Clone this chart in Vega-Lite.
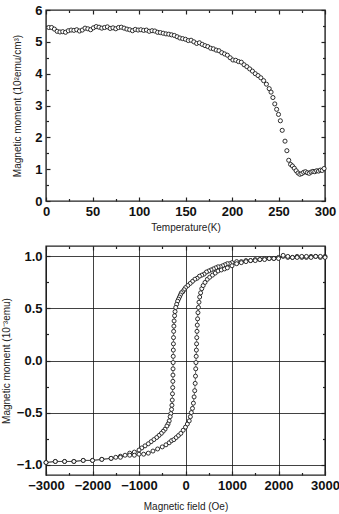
{
  "$schema": "https://vega.github.io/schema/vega-lite/v6.json",
  "padding": {"left": 0, "top": 3, "right": 0, "bottom": 0},
  "spacing": 11,
  "config": {
    "view": {"stroke": "#222", "strokeWidth": 1.4},
    "axis": {"labelFont": "Liberation Sans", "labelFontWeight": "bold", "labelFontSize": 13, "labelColor": "#111", "titleFont": "Liberation Sans", "titleFontSize": 10, "titleFontWeight": "normal", "titleColor": "#222", "tickColor": "#222", "tickWidth": 1.2, "domain": false, "grid": false, "labelFlush": false, "labelOverlap": false}
  },
  "datasets": {
    "mt": [
      {"T":3,"M":5.45},{"T":6,"M":5.45},{"T":9,"M":5.40},{"T":12,"M":5.33},{"T":15,"M":5.31},{"T":18,"M":5.32},{"T":21,"M":5.30},{"T":24,"M":5.35},{"T":27,"M":5.37},{"T":30,"M":5.36},
      {"T":33,"M":5.38},{"T":36,"M":5.34},{"T":39,"M":5.37},{"T":42,"M":5.43},{"T":45,"M":5.41},{"T":48,"M":5.38},{"T":51,"M":5.44},{"T":54,"M":5.48},{"T":57,"M":5.46},{"T":60,"M":5.43},
      {"T":63,"M":5.45},{"T":66,"M":5.47},{"T":69,"M":5.42},{"T":72,"M":5.44},{"T":75,"M":5.41},{"T":78,"M":5.45},{"T":81,"M":5.46},{"T":84,"M":5.43},{"T":87,"M":5.40},{"T":90,"M":5.38},
      {"T":93,"M":5.35},{"T":96,"M":5.39},{"T":99,"M":5.37},{"T":102,"M":5.38},{"T":105,"M":5.36},{"T":108,"M":5.37},{"T":111,"M":5.33},{"T":114,"M":5.35},{"T":117,"M":5.34},{"T":120,"M":5.30},
      {"T":123,"M":5.29},{"T":126,"M":5.27},{"T":129,"M":5.25},{"T":132,"M":5.24},{"T":135,"M":5.22},{"T":138,"M":5.20},{"T":141,"M":5.16},{"T":144,"M":5.12},{"T":147,"M":5.10},{"T":150,"M":5.08},
      {"T":153,"M":5.04},{"T":156,"M":5.05},{"T":159,"M":5.00},{"T":162,"M":4.95},{"T":165,"M":4.97},{"T":168,"M":4.92},{"T":171,"M":4.88},{"T":174,"M":4.85},{"T":177,"M":4.80},{"T":180,"M":4.78},
      {"T":183,"M":4.74},{"T":186,"M":4.72},{"T":189,"M":4.66},{"T":192,"M":4.62},{"T":195,"M":4.58},{"T":198,"M":4.50},{"T":201,"M":4.43},{"T":204,"M":4.42},{"T":207,"M":4.38},{"T":210,"M":4.36},
      {"T":213,"M":4.28},{"T":216,"M":4.22},{"T":219,"M":4.15},{"T":222,"M":4.08},{"T":225,"M":4.00},{"T":228,"M":3.94},{"T":231,"M":3.87},{"T":234,"M":3.78},{"T":237,"M":3.67},{"T":240,"M":3.53},
      {"T":242,"M":3.42},{"T":244,"M":3.25},{"T":246,"M":3.05},{"T":248,"M":2.88},{"T":250,"M":2.72},{"T":252,"M":2.52},{"T":254,"M":2.22},{"T":257,"M":1.88},{"T":259,"M":1.58},{"T":261,"M":1.28},
      {"T":263,"M":1.15},{"T":265,"M":1.10},{"T":267,"M":1.03},{"T":269,"M":0.95},{"T":271,"M":0.88},{"T":273,"M":0.84},{"T":275,"M":0.86},{"T":277,"M":0.90},{"T":279,"M":0.92},{"T":281,"M":0.89},
      {"T":283,"M":0.87},{"T":285,"M":0.91},{"T":287,"M":0.93},{"T":289,"M":0.92},{"T":291,"M":0.95},{"T":293,"M":0.94},{"T":295,"M":0.97},{"T":297,"M":0.96},{"T":299,"M":1.02}
    ],
    "mh": [
      {"b":"down","i":1,"H":3000,"M":1.00},{"b":"down","i":2,"H":2900,"M":0.99},{"b":"down","i":3,"H":2800,"M":1.00},{"b":"down","i":4,"H":2700,"M":1.00},{"b":"down","i":5,"H":2600,"M":0.99},
      {"b":"down","i":6,"H":2500,"M":0.99},{"b":"down","i":7,"H":2400,"M":1.00},{"b":"down","i":8,"H":2300,"M":0.99},{"b":"down","i":9,"H":2200,"M":0.99},{"b":"down","i":10,"H":2100,"M":1.00},
      {"b":"down","i":11,"H":2000,"M":0.99},{"b":"down","i":12,"H":1900,"M":0.98},{"b":"down","i":13,"H":1800,"M":0.98},{"b":"down","i":14,"H":1700,"M":0.98},{"b":"down","i":15,"H":1600,"M":0.97},
      {"b":"down","i":16,"H":1500,"M":0.97},{"b":"down","i":17,"H":1400,"M":0.96},{"b":"down","i":18,"H":1300,"M":0.96},{"b":"down","i":19,"H":1200,"M":0.95},{"b":"down","i":20,"H":1100,"M":0.95},
      {"b":"down","i":21,"H":1000,"M":0.94},{"b":"down","i":22,"H":950,"M":0.93},{"b":"down","i":23,"H":900,"M":0.93},{"b":"down","i":24,"H":850,"M":0.92},{"b":"down","i":25,"H":800,"M":0.91},
      {"b":"down","i":26,"H":750,"M":0.90},{"b":"down","i":27,"H":700,"M":0.90},{"b":"down","i":28,"H":650,"M":0.89},{"b":"down","i":29,"H":600,"M":0.88},{"b":"down","i":30,"H":550,"M":0.87},
      {"b":"down","i":31,"H":500,"M":0.86},{"b":"down","i":32,"H":450,"M":0.85},{"b":"down","i":33,"H":400,"M":0.83},{"b":"down","i":34,"H":350,"M":0.82},{"b":"down","i":35,"H":300,"M":0.81},
      {"b":"down","i":36,"H":250,"M":0.79},{"b":"down","i":37,"H":200,"M":0.78},{"b":"down","i":38,"H":150,"M":0.76},{"b":"down","i":39,"H":100,"M":0.74},{"b":"down","i":40,"H":50,"M":0.72},
      {"b":"down","i":41,"H":0,"M":0.70},{"b":"down","i":42,"H":-30,"M":0.68},{"b":"down","i":43,"H":-60,"M":0.66},{"b":"down","i":44,"H":-90,"M":0.65},{"b":"down","i":45,"H":-110,"M":0.63},
      {"b":"down","i":46,"H":-130,"M":0.61},{"b":"down","i":47,"H":-150,"M":0.59},{"b":"down","i":48,"H":-170,"M":0.57},{"b":"down","i":49,"H":-190,"M":0.54},{"b":"down","i":50,"H":-210,"M":0.51},
      {"b":"down","i":51,"H":-225,"M":0.47},{"b":"down","i":52,"H":-235,"M":0.43},{"b":"down","i":53,"H":-245,"M":0.38},{"b":"down","i":54,"H":-250,"M":0.33},{"b":"down","i":55,"H":-255,"M":0.28},
      {"b":"down","i":56,"H":-258,"M":0.22},{"b":"down","i":57,"H":-260,"M":0.16},{"b":"down","i":58,"H":-262,"M":0.10},{"b":"down","i":59,"H":-264,"M":0.04},{"b":"down","i":60,"H":-266,"M":-0.02},
      {"b":"down","i":61,"H":-268,"M":-0.08},{"b":"down","i":62,"H":-270,"M":-0.14},{"b":"down","i":63,"H":-272,"M":-0.20},{"b":"down","i":64,"H":-275,"M":-0.26},{"b":"down","i":65,"H":-280,"M":-0.32},
      {"b":"down","i":66,"H":-285,"M":-0.38},{"b":"down","i":67,"H":-292,"M":-0.43},{"b":"down","i":68,"H":-300,"M":-0.47},{"b":"down","i":69,"H":-315,"M":-0.51},{"b":"down","i":70,"H":-330,"M":-0.54},
      {"b":"down","i":71,"H":-350,"M":-0.58},{"b":"down","i":72,"H":-375,"M":-0.61},{"b":"down","i":73,"H":-400,"M":-0.63},{"b":"down","i":74,"H":-440,"M":-0.66},{"b":"down","i":75,"H":-480,"M":-0.68},
      {"b":"down","i":76,"H":-520,"M":-0.70},{"b":"down","i":77,"H":-570,"M":-0.72},{"b":"down","i":78,"H":-620,"M":-0.74},{"b":"down","i":79,"H":-680,"M":-0.76},{"b":"down","i":80,"H":-740,"M":-0.78},
      {"b":"down","i":81,"H":-800,"M":-0.80},{"b":"down","i":82,"H":-870,"M":-0.82},{"b":"down","i":83,"H":-940,"M":-0.84},{"b":"down","i":84,"H":-1000,"M":-0.86},{"b":"down","i":85,"H":-1100,"M":-0.88},
      {"b":"down","i":86,"H":-1200,"M":-0.89},{"b":"down","i":87,"H":-1300,"M":-0.91},{"b":"down","i":88,"H":-1400,"M":-0.92},{"b":"down","i":89,"H":-1500,"M":-0.93},{"b":"down","i":90,"H":-1600,"M":-0.94},
      {"b":"down","i":91,"H":-1800,"M":-0.95},{"b":"down","i":92,"H":-2000,"M":-0.96},{"b":"down","i":93,"H":-2200,"M":-0.96},{"b":"down","i":94,"H":-2400,"M":-0.97},{"b":"down","i":95,"H":-2600,"M":-0.97},
      {"b":"down","i":96,"H":-2800,"M":-0.97},{"b":"down","i":97,"H":-3000,"M":-0.98},
      {"b":"up","i":1,"H":-3000,"M":-0.98},{"b":"up","i":2,"H":-2800,"M":-0.97},{"b":"up","i":3,"H":-2600,"M":-0.97},{"b":"up","i":4,"H":-2400,"M":-0.97},{"b":"up","i":5,"H":-2200,"M":-0.96},
      {"b":"up","i":6,"H":-2000,"M":-0.96},{"b":"up","i":7,"H":-1800,"M":-0.95},{"b":"up","i":8,"H":-1600,"M":-0.94},{"b":"up","i":9,"H":-1400,"M":-0.93},{"b":"up","i":10,"H":-1200,"M":-0.91},
      {"b":"up","i":11,"H":-1100,"M":-0.91},{"b":"up","i":12,"H":-1000,"M":-0.90},{"b":"up","i":13,"H":-900,"M":-0.90},{"b":"up","i":14,"H":-800,"M":-0.89},{"b":"up","i":15,"H":-700,"M":-0.87},
      {"b":"up","i":16,"H":-600,"M":-0.85},{"b":"up","i":17,"H":-500,"M":-0.83},{"b":"up","i":18,"H":-420,"M":-0.81},{"b":"up","i":19,"H":-350,"M":-0.79},{"b":"up","i":20,"H":-300,"M":-0.77},
      {"b":"up","i":21,"H":-250,"M":-0.76},{"b":"up","i":22,"H":-200,"M":-0.74},{"b":"up","i":23,"H":-150,"M":-0.72},{"b":"up","i":24,"H":-100,"M":-0.70},{"b":"up","i":25,"H":-50,"M":-0.67},
      {"b":"up","i":26,"H":0,"M":-0.64},{"b":"up","i":27,"H":40,"M":-0.61},{"b":"up","i":28,"H":80,"M":-0.58},{"b":"up","i":29,"H":105,"M":-0.54},{"b":"up","i":30,"H":125,"M":-0.50},
      {"b":"up","i":31,"H":150,"M":-0.46},{"b":"up","i":32,"H":170,"M":-0.41},{"b":"up","i":33,"H":185,"M":-0.35},{"b":"up","i":34,"H":198,"M":-0.29},{"b":"up","i":35,"H":208,"M":-0.22},
      {"b":"up","i":36,"H":215,"M":-0.15},{"b":"up","i":37,"H":220,"M":-0.08},{"b":"up","i":38,"H":225,"M":-0.02},{"b":"up","i":39,"H":230,"M":0.04},{"b":"up","i":40,"H":234,"M":0.10},
      {"b":"up","i":41,"H":238,"M":0.16},{"b":"up","i":42,"H":242,"M":0.22},{"b":"up","i":43,"H":247,"M":0.28},{"b":"up","i":44,"H":253,"M":0.34},{"b":"up","i":45,"H":260,"M":0.40},
      {"b":"up","i":46,"H":268,"M":0.46},{"b":"up","i":47,"H":278,"M":0.51},{"b":"up","i":48,"H":290,"M":0.56},{"b":"up","i":49,"H":305,"M":0.61},{"b":"up","i":50,"H":325,"M":0.65},
      {"b":"up","i":51,"H":350,"M":0.69},{"b":"up","i":52,"H":380,"M":0.72},{"b":"up","i":53,"H":420,"M":0.75},{"b":"up","i":54,"H":470,"M":0.78},{"b":"up","i":55,"H":520,"M":0.80},
      {"b":"up","i":56,"H":580,"M":0.82},{"b":"up","i":57,"H":640,"M":0.84},{"b":"up","i":58,"H":700,"M":0.86},{"b":"up","i":59,"H":770,"M":0.87},{"b":"up","i":60,"H":840,"M":0.88},
      {"b":"up","i":61,"H":900,"M":0.89},{"b":"up","i":62,"H":1000,"M":0.91},{"b":"up","i":63,"H":1100,"M":0.93},{"b":"up","i":64,"H":1200,"M":0.94},{"b":"up","i":65,"H":1300,"M":0.95},
      {"b":"up","i":66,"H":1400,"M":0.96},{"b":"up","i":67,"H":1500,"M":0.96},{"b":"up","i":68,"H":1600,"M":0.97},{"b":"up","i":69,"H":1700,"M":0.97},{"b":"up","i":70,"H":1800,"M":0.98},
      {"b":"up","i":71,"H":1900,"M":0.98},{"b":"up","i":72,"H":2000,"M":0.98},{"b":"up","i":73,"H":2100,"M":1.01},{"b":"up","i":74,"H":2200,"M":1.00},{"b":"up","i":75,"H":2300,"M":0.99},
      {"b":"up","i":76,"H":2400,"M":0.99},{"b":"up","i":77,"H":2500,"M":1.00},{"b":"up","i":78,"H":2600,"M":1.00},{"b":"up","i":79,"H":2700,"M":0.99},{"b":"up","i":80,"H":2800,"M":1.00},
      {"b":"up","i":81,"H":2900,"M":1.00},{"b":"up","i":82,"H":3000,"M":0.99}
    ]
  },
  "vconcat": [
    {
      "width": 279,
      "height": 191,
      "data": {"name": "mt"},
      "resolve": {"axis": {"x": "independent", "y": "independent"}},
      "layer": [
        {
          "mark": {"type": "point", "shape": "circle", "fill": "white", "stroke": "#1a1a1a", "strokeWidth": 0.9, "size": 17, "opacity": 1},
          "encoding": {
            "x": {"field": "T", "type": "quantitative", "scale": {"domain": [0, 300], "nice": false, "zero": false},
                  "axis": {"orient": "bottom", "values": [0, 50, 100, 150, 200, 250, 300], "title": "Temperature(K)", "tickSize": -4, "labelPadding": 8, "titlePadding": 4}},
            "y": {"field": "M", "type": "quantitative", "scale": {"domain": [0, 6], "nice": false},
                  "axis": {"orient": "left", "values": [0, 1, 2, 3, 4, 5, 6], "title": "Magnetic moment (10²emu/cm³)", "tickSize": -4, "labelPadding": 8, "titlePadding": 12}}
          }
        },
        {
          "mark": {"type": "point", "opacity": 0},
          "encoding": {
            "x": {"field": "T", "type": "quantitative", "axis": {"orient": "top", "values": [0, 50, 100, 150, 200, 250, 300], "labels": false, "title": null, "tickSize": -4}},
            "y": {"field": "M", "type": "quantitative", "axis": {"orient": "right", "values": [0, 1, 2, 3, 4, 5, 6], "labels": false, "title": null, "tickSize": -4}}
          }
        },
        {
          "mark": {"type": "point", "opacity": 0},
          "encoding": {
            "x": {"field": "T", "type": "quantitative", "axis": {"orient": "bottom", "values": [25, 75, 125, 175, 225, 275], "labels": false, "title": null, "tickSize": -2.5}},
            "y": {"field": "M", "type": "quantitative", "axis": {"orient": "left", "values": [0.5, 1.5, 2.5, 3.5, 4.5, 5.5], "labels": false, "title": null, "tickSize": -2.5}}
          }
        },
        {
          "mark": {"type": "point", "opacity": 0},
          "encoding": {
            "x": {"field": "T", "type": "quantitative", "axis": {"orient": "top", "values": [25, 75, 125, 175, 225, 275], "labels": false, "title": null, "tickSize": -2.5}},
            "y": {"field": "M", "type": "quantitative", "axis": {"orient": "right", "values": [0.5, 1.5, 2.5, 3.5, 4.5, 5.5], "labels": false, "title": null, "tickSize": -2.5}}
          }
        }
      ]
    },
    {
      "width": 279,
      "height": 229,
      "data": {"name": "mh"},
      "resolve": {"axis": {"x": "independent", "y": "independent"}},
      "layer": [
        {
          "mark": {"type": "line", "color": "#333", "strokeWidth": 0.7},
          "encoding": {
            "x": {"field": "H", "type": "quantitative", "scale": {"domain": [-3000, 3000], "nice": false, "zero": false},
                  "axis": {"orient": "bottom", "values": [-3000, -2000, -1000, 0, 1000, 2000, 3000], "format": "d", "title": "Magnetic field (Oe)", "tickSize": -4, "labelPadding": 8, "titlePadding": 9, "grid": true, "gridColor": "#111", "gridWidth": 0.8, "gridOpacity": 1}},
            "y": {"field": "M", "type": "quantitative", "scale": {"domain": [-1.1, 1.1], "nice": false, "zero": false},
                  "axis": {"orient": "left", "values": [-1, -0.5, 0, 0.5, 1], "format": ".1f", "title": "Magnetic moment (10⁻³emu)", "tickSize": -4, "labelPadding": 8, "titlePadding": 5, "grid": true, "gridColor": "#111", "gridWidth": 0.8, "gridOpacity": 1}},
            "detail": {"field": "b", "type": "nominal"},
            "order": {"field": "i", "type": "quantitative"}
          }
        },
        {
          "mark": {"type": "point", "shape": "circle", "fill": "white", "stroke": "#1a1a1a", "strokeWidth": 0.9, "size": 16, "opacity": 1},
          "encoding": {
            "x": {"field": "H", "type": "quantitative", "axis": null},
            "y": {"field": "M", "type": "quantitative", "axis": null}
          }
        },
        {
          "mark": {"type": "point", "opacity": 0},
          "encoding": {
            "x": {"field": "H", "type": "quantitative", "axis": {"orient": "top", "values": [-3000, -2000, -1000, 0, 1000, 2000, 3000], "labels": false, "title": null, "tickSize": -4}},
            "y": {"field": "M", "type": "quantitative", "axis": {"orient": "right", "values": [-1, -0.5, 0, 0.5, 1], "labels": false, "title": null, "tickSize": -4}}
          }
        },
        {
          "mark": {"type": "point", "opacity": 0},
          "encoding": {
            "x": {"field": "H", "type": "quantitative", "axis": {"orient": "bottom", "values": [-2500, -1500, -500, 500, 1500, 2500], "labels": false, "title": null, "tickSize": -2.5}},
            "y": {"field": "M", "type": "quantitative", "axis": {"orient": "left", "values": [-0.75, -0.25, 0.25, 0.75], "labels": false, "title": null, "tickSize": -2.5}}
          }
        },
        {
          "mark": {"type": "point", "opacity": 0},
          "encoding": {
            "x": {"field": "H", "type": "quantitative", "axis": {"orient": "top", "values": [-2500, -1500, -500, 500, 1500, 2500], "labels": false, "title": null, "tickSize": -2.5}},
            "y": {"field": "M", "type": "quantitative", "axis": {"orient": "right", "values": [-0.75, -0.25, 0.25, 0.75], "labels": false, "title": null, "tickSize": -2.5}}
          }
        }
      ]
    }
  ]
}
